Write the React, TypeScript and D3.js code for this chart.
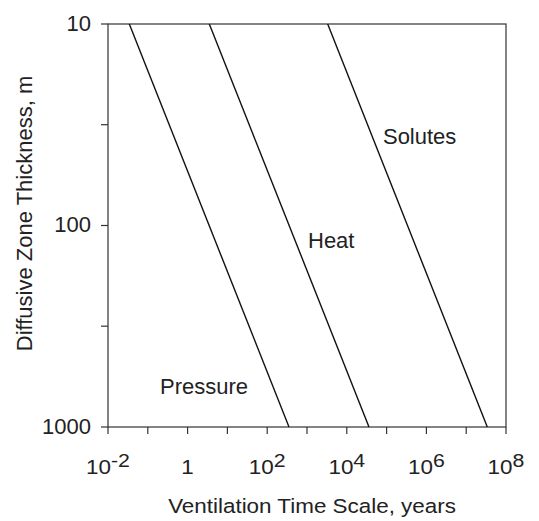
import React from "react";
import * as d3 from "d3";

const W = 539;
const H = 521;

// Diffusive zone thickness (m) at line ends, and ventilation time scale (years)
const thickness = [10, 1000];
const pressureTime = [0.0343, 353];
const heatTime = [3.51, 36100];
const solutesTime = [3310, 3.39e7];

const seriesNames = ["Pressure", "Heat", "Solutes"];
const seriesTimes = [pressureTime, heatTime, solutesTime];
const labelAnchors: [number, number][] = [
  [0.203, 685],
  [1060, 130],
  [8.1e4, 39.5],
];

const xTickValues = [1e-2, 1e-1, 1, 1e1, 1e2, 1e3, 1e4, 1e5, 1e6, 1e7, 1e8];
const xTickLabels: [string, string][] = [
  ["10", "-2"],
  ["", ""],
  ["1", ""],
  ["", ""],
  ["10", "2"],
  ["", ""],
  ["10", "4"],
  ["", ""],
  ["10", "6"],
  ["", ""],
  ["10", "8"],
];
const yTickValues = [10, 31.6, 100, 316, 1000];
const yTickLabels = ["10", "", "100", "", "1000"];

const FONT = "Liberation Sans, Arial, Helvetica, sans-serif";

export default function App() {
  const left = 108;
  const right = 506;
  const top = 24;
  const bottom = 427;
  const x = d3.scaleLog().domain([1e-2, 1e8]).range([left, right]);
  const y = d3.scaleLog().domain([10, 1000]).range([top, bottom]);
  const line = d3
    .line<[number, number]>()
    .x((d) => x(d[0]))
    .y((d) => y(d[1]));
  const axisColor = "#333";

  return (
    <svg
      width={W}
      height={H}
      style={{ position: "absolute", left: 0, top: 0, background: "#fff" }}
      fontFamily={FONT}
    >
      <rect x={0} y={0} width={W} height={H} fill="#fff" />
      {/* frame */}
      <rect
        x={left}
        y={top}
        width={right - left}
        height={bottom - top}
        fill="none"
        stroke={axisColor}
        strokeWidth={1.2}
      />
      {/* lines */}
      {seriesTimes.map((ts, i) => (
        <path
          key={seriesNames[i]}
          d={line(ts.map((t, j) => [t, thickness[j]] as [number, number])) || ""}
          fill="none"
          stroke="#111"
          strokeWidth={1.4}
        />
      ))}
      {/* labels */}
      {seriesNames.map((n, i) => (
        <text
          key={n}
          x={x(labelAnchors[i][0])}
          y={y(labelAnchors[i][1])}
          fontSize={22}
          fill="#222"
        >
          {n}
        </text>
      ))}
      {/* x ticks */}
      {xTickValues.map((v, i) => (
        <g key={"xt" + i}>
          <line
            x1={x(v)}
            x2={x(v)}
            y1={bottom}
            y2={bottom + 7}
            stroke={axisColor}
            strokeWidth={1.2}
          />
          {xTickLabels[i][0] && (
            <g transform={`translate(${x(v)},474) scale(1.15,1)`}>
              <text textAnchor="middle" fontSize={19.5} fill="#222">
                <tspan>{xTickLabels[i][0]}</tspan>
                {xTickLabels[i][1] && (
                  <tspan dy={-7} fontSize={18.5}>
                    {xTickLabels[i][1]}
                  </tspan>
                )}
              </text>
            </g>
          )}
        </g>
      ))}
      {/* y ticks */}
      {yTickValues.map((v, i) => (
        <g key={"yt" + i}>
          <line
            x1={left - 7}
            x2={left}
            y1={y(v)}
            y2={y(v)}
            stroke={axisColor}
            strokeWidth={1.2}
          />
          {yTickLabels[i] && (
            <text
              x={91}
              y={y(v) - 1}
              textAnchor="end"
              dominantBaseline="central"
              fontSize={22}
              fill="#222"
            >
              {yTickLabels[i]}
            </text>
          )}
        </g>
      ))}
      {/* axis titles */}
      <g transform="translate(312,513) scale(1.15,1)">
        <text textAnchor="middle" fontSize={19.5} fill="#222">
          Ventilation Time Scale, years
        </text>
      </g>
      <text
        transform="translate(32,213.5) rotate(-90)"
        textAnchor="middle"
        fontSize={22}
        fill="#222"
      >
        Diffusive Zone Thickness, m
      </text>
    </svg>
  );
}
